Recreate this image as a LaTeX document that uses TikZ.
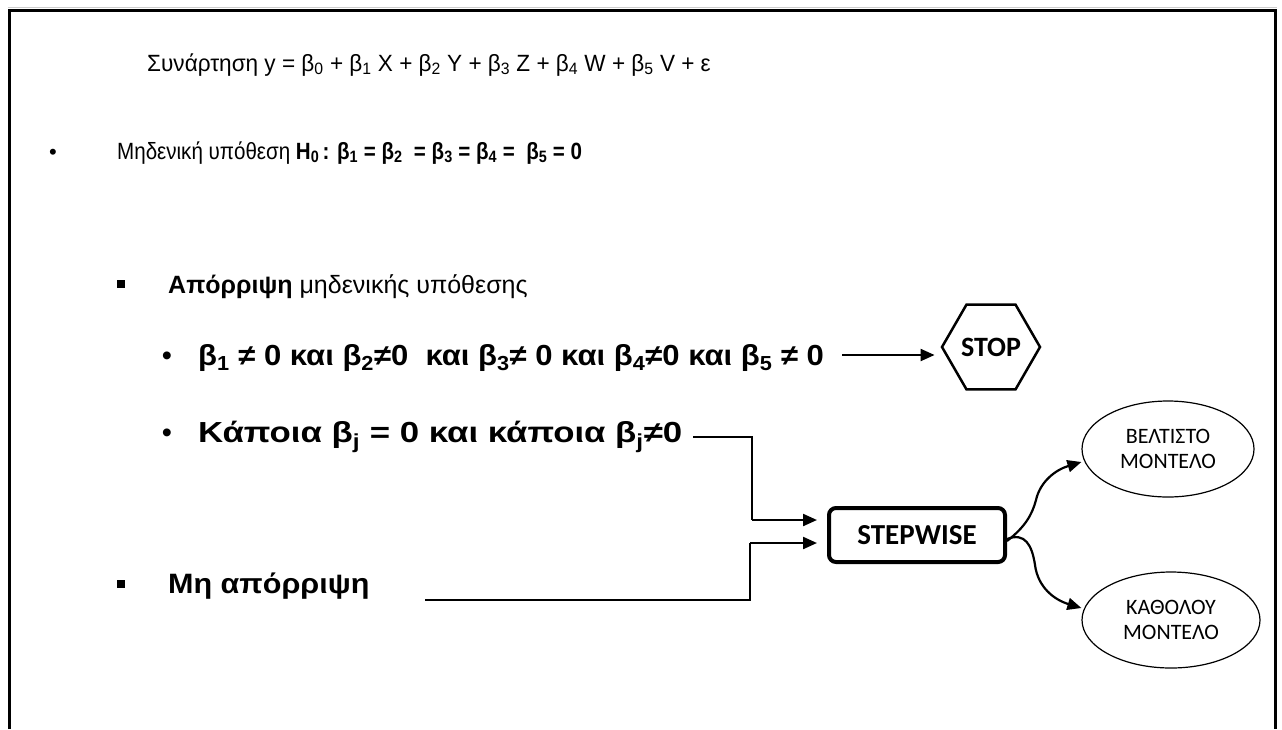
\documentclass[tikz,border=0pt]{standalone}
\usepackage{fontspec}
\setmainfont{Liberation Sans}
\newfontfamily\calfont{Carlito}
\usetikzlibrary{arrows.meta,shapes.geometric}
\begin{document}
\begin{tikzpicture}[x=1pt,y=-1pt,
  txt/.style={anchor=base west,inner sep=0pt},
  bul/.style={anchor=base,inner sep=0pt},
  sq/.style={fill=black,minimum size=7.5pt,inner sep=0pt},
  conn/.style={line width=2.2pt},
  arr/.style={line width=2.2pt,-{Triangle[length=14pt,width=12pt]}},
  oval/.style={draw,ellipse,line width=1.2pt,font=\calfont\fontsize{22}{25}\selectfont,align=center,inner sep=0pt}]
\useasboundingbox (0,0) rectangle (1282,729);
% frame
\draw[gray!40,line width=1pt] (8,7) -- (1277,7);
\draw[line width=3pt] (9,729) -- (9,10.5) -- (1275,10.5) -- (1275,729);
% line 1
\node[txt,font=\fontsize{23.5}{27}\selectfont] (t1) at (147,71) {\scalebox{0.96}[1]{Συνάρτηση y = β\textsubscript{0} + β\textsubscript{1} X + β\textsubscript{2} Y + β\textsubscript{3} Z + β\textsubscript{4} W + β\textsubscript{5} V + ε}};
% line 2
\node[bul,font=\fontsize{22}{25}\selectfont] (b2) at (53,159) {•};
\node[txt,font=\fontsize{23.5}{27}\selectfont] (t2) at (117,159) {\scalebox{0.875}[1]{Μηδενική υπόθεση \textbf{H\textsubscript{0}\,: β\textsubscript{1} = β\textsubscript{2}\ \ = β\textsubscript{3} = β\textsubscript{4} =\ \ β\textsubscript{5} = 0}}};
% line 3
\node[sq] (s3) at (121,284) {};
\node[txt,font=\fontsize{25}{29}\selectfont] (t3) at (168,293) {\textbf{Απόρριψη} μηδενικής υπόθεσης};
% line 4
\node[bul,font=\fontsize{29}{33}\selectfont] (b4) at (167,365) {•};
\node[txt,font=\fontsize{29}{33}\selectfont] (t4) at (198,365) {\scalebox{1.07}[1]{\textbf{β\textsubscript{1} ≠ 0 και β\textsubscript{2}≠0\ \ και β\textsubscript{3}≠ 0 και β\textsubscript{4}≠0 και β\textsubscript{5} ≠ 0}}};
% line 5
\node[bul,font=\fontsize{29}{33}\selectfont] (b5) at (167,442) {•};
\node[txt,font=\fontsize{29}{33}\selectfont] (t5) at (198,442) {\scalebox{1.2}[1]{\textbf{Κάποια β\textsubscript{j} = 0 και κάποια β\textsubscript{j}≠0}}};
% line 6
\node[sq] (s6) at (121,584) {};
\node[txt,font=\fontsize{28}{32}\selectfont] (t6) at (168,593) {\scalebox{1.09}[1]{\textbf{Μη απόρριψη}}};
% shapes
\node[draw,regular polygon,regular polygon sides=6,minimum size=98pt,inner sep=0pt,line width=2.5pt,font=\calfont\bfseries\fontsize{28}{32}\selectfont] (stop) at (991,347) {STOP};
\node[draw,rounded corners=7pt,line width=4pt,minimum width=176pt,minimum height=54pt,font=\calfont\bfseries\fontsize{29}{33}\selectfont] (sw) at (917,535) {STEPWISE};
\node[oval,minimum width=172pt,minimum height=96pt] (e1) at (1168,449) {ΒΕΛΤΙΣΤΟ\\ΜΟΝΤΕΛΟ};
\node[oval,minimum width=178pt,minimum height=96pt] (e2) at (1171,620) {ΚΑΘΟΛΟΥ\\ΜΟΝΤΕΛΟ};
% connectors
\coordinate (a4) at (842,355);
\draw[arr,shorten >=6pt] (a4) -- (stop.west |- a4);
\coordinate (c5a) at (693,437);
\coordinate (c5b) at (752,437);
\coordinate (c5c) at (752,520);
\draw[conn] (c5a) -- (c5b) -- (c5c);
\draw[arr,shorten >=10pt] (c5c) -- (sw.west |- c5c);
\coordinate (c6a) at (425,600);
\coordinate (c6b) at (750,600);
\coordinate (c6c) at (750,543);
\draw[conn] (c6a) -- (c6b) -- (c6c);
\draw[arr,shorten >=10pt] (c6c) -- (sw.west |- c6c);
\draw[arr] ([yshift=-6pt]sw.east) .. controls (1025,527) and (1032,515) .. (1036,500) .. controls (1040,482) and (1055,470) .. (e1.west|-0,462);
\draw[arr] ([yshift=-4pt]sw.east) .. controls (1025,532) and (1032,545) .. (1035,565) .. controls (1038,588) and (1055,600) .. (e2.west|-0,608);
\end{tikzpicture}
\end{document}
